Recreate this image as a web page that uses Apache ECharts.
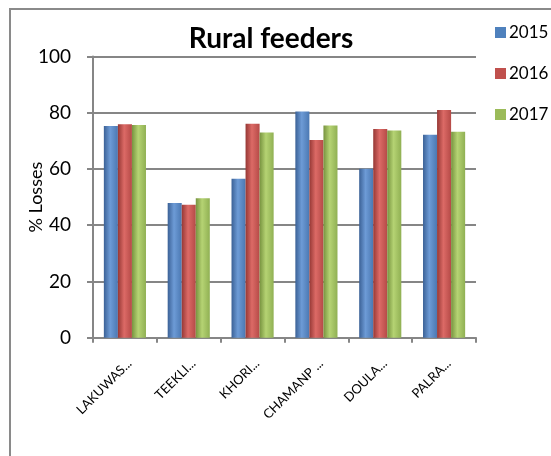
<!DOCTYPE html>
<html>
<head>
<meta charset="utf-8">
<script src="https://cdn.jsdelivr.net/npm/echarts@6/dist/echarts.min.js"></script>
<style>
  html, body { margin: 0; padding: 0; background: #fff; }
  #chart { width: 551px; height: 456px; }
</style>
</head>
<body>
<div id="chart"></div>
<script>
// Feeder names (truncated as shown on the axis)
const categories = ['LAKUWAS...', 'TEEKLI...', 'KHORI...', 'CHAMANP ...', 'DOULA...', 'PALRA...'];
const years = ['2015', '2016', '2017'];
const losses2015 = [75.3, 47.9, 56.5, 80.4, 60.1, 72.2];
const losses2016 = [75.9, 47.3, 76.1, 70.3, 74.2, 81.0];
const losses2017 = [75.6, 49.6, 73.0, 75.5, 73.7, 73.2];
const yTicks = [0, 20, 40, 60, 80, 100];

const baseColors = ['#4F81BD', '#C0504D', '#9BBB59'];
const shades = [
  ['#3b6196', '#6d9bd6', '#4b78b2'],
  ['#963835', '#dc6a66', '#b54a47'],
  ['#77933f', '#b5d373', '#90b053']
];

// Cylinder-like horizontal shading for each bar series
function barFill(i) {
  return new echarts.graphic.LinearGradient(0, 0, 1, 0, [
    { offset: 0, color: shades[i][0] },
    { offset: 0.45, color: shades[i][1] },
    { offset: 1, color: shades[i][2] }
  ]);
}

const seriesData = [losses2015, losses2016, losses2017];
const font = 'Lato, "Open Sans", sans-serif';

const chart = echarts.init(document.getElementById('chart'));
chart.setOption({
  animation: false,
  backgroundColor: '#fff',
  color: baseColors,
  title: {
    text: 'Rural feeders',
    left: 266,
    top: 20,
    textAlign: 'center',
    textStyle: { fontFamily: font, fontWeight: 'bold', fontSize: 28, color: '#000' }
  },
  legend: {
    orient: 'vertical',
    left: 490,
    top: 19,
    itemGap: 24,
    itemWidth: 11,
    itemHeight: 11,
    icon: 'rect',
    data: years.map((y, i) => ({ name: y, itemStyle: { color: baseColors[i] } })),
    textStyle: { fontFamily: font, fontSize: 17, color: '#000', padding: [0, 0, 0, -2] }
  },
  grid: { left: 93, right: 75, top: 56.5, bottom: 118.3 },
  xAxis: {
    type: 'category',
    data: categories,
    axisLine: { lineStyle: { color: '#868686', width: 2 } },
    axisTick: { show: true, length: 5, lineStyle: { color: '#868686', width: 2 } },
    axisLabel: {
      rotate: 45,
      margin: 19,
      verticalAlign: 'top',
      fontFamily: font,
      fontSize: 13,
      color: '#000'
    }
  },
  yAxis: {
    type: 'value',
    min: yTicks[0],
    max: yTicks[yTicks.length - 1],
    interval: 20,
    name: '% Losses',
    nameLocation: 'middle',
    nameGap: 48,
    nameMoveOverlap: false,
    nameTextStyle: { fontFamily: font, fontSize: 18, color: '#000' },
    axisLine: { show: true, lineStyle: { color: '#868686', width: 2 } },
    axisTick: { show: true, length: 6, lineStyle: { color: '#868686', width: 2 } },
    axisLabel: { fontFamily: font, fontSize: 19, color: '#000', margin: 22 },
    splitLine: { lineStyle: { color: '#868686', width: 2 } }
  },
  series: seriesData.map((d, i) => ({
    name: years[i],
    type: 'bar',
    data: d,
    barGap: '0%',
    barCategoryGap: '34%',
    itemStyle: { color: barFill(i) }
  })),
  graphic: [{
    type: 'rect',
    shape: { x: 10, y: 9, width: 600, height: 500 },
    style: { fill: 'none', stroke: '#8a8a8a', lineWidth: 2 },
    silent: true
  }]
});
</script>
</body>
</html>
